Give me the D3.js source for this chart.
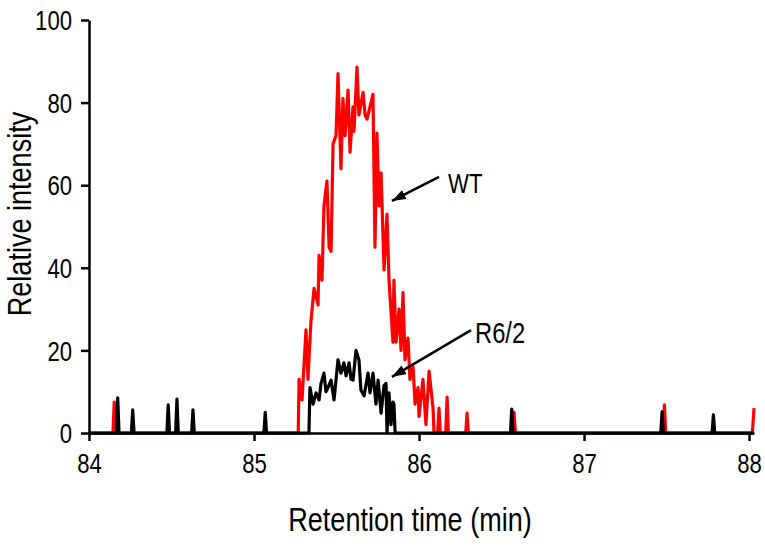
<!DOCTYPE html>
<html><head><meta charset="utf-8">
<script src="https://cdn.jsdelivr.net/npm/d3@7"></script>
<style>body{margin:0;background:#fff}</style>
</head><body><svg id="c" width="765" height="546"></svg>
<script>
// WT (red) trace
const wtTime = [84.00,84.145,84.153,84.161,85.268,85.273,85.291,85.315,85.327,85.345,85.364,85.388,85.394,85.412,85.424,85.442,85.455,85.467,85.479,85.497,85.509,85.527,85.539,85.552,85.570,85.582,85.600,85.606,85.624,85.636,85.661,85.673,85.685,85.721,85.733,85.745,85.758,85.770,85.788,85.806,85.818,85.842,85.848,85.861,85.879,85.891,85.903,85.915,85.933,85.945,85.964,85.976,85.994,86.000,86.024,86.042,86.061,86.085,86.091,86.113,86.121,86.129,86.162,86.170,86.178,86.283,86.291,86.299,86.568,86.576,86.584,87.479,87.487,87.495,88.02,88.03];
const wtIntensity = [0,0,7.5,0,0,13,8,25,13,27,35,31,43,37,55,61,45,44,70,72,87,64,81,72,83,68,79,73,88.6,77,82.5,77,76,82,45,72.6,55,63,39.5,53,37,22,37,22,30,20,34,17.7,23,13,16,7,11,4,13,2,15,6,0,0,6,0,0,8.7,0,0,4.8,0,0,5,0,0,6.8,0,0,6];
// R6/2 (black) trace
const r62Time = [84.00,84.166,84.174,84.182,84.257,84.265,84.273,84.472,84.480,84.488,84.525,84.533,84.541,84.622,84.630,84.638,85.060,85.068,85.076,85.333,85.339,85.358,85.376,85.394,85.406,85.424,85.436,85.448,85.467,85.485,85.509,85.527,85.545,85.558,85.576,85.588,85.600,85.618,85.636,85.648,85.667,85.691,85.703,85.721,85.739,85.752,85.770,85.788,85.800,85.806,85.818,85.830,85.842,85.848,85.855,86.554,86.562,86.570,87.465,87.473,87.481,87.776,87.784,87.792,88.03];
const r62Intensity = [0,0,8.5,0,0,5.6,0,0,6.8,0,0,8.2,0,0,5.6,0,0,5,0,0,11,7,9.7,8,12,14.5,10,11,12.8,8,17.7,14.5,17,13.8,17,13,12.8,20,17.7,10.4,9,14.5,9.7,14.5,7,12.8,4.8,11.5,12,0,9.7,2,7.5,7,0,0,5.8,0,0,5.2,0,0,4.4,0,0];
const xTicks = [84,85,86,87,88];
const yTicks = [0,20,40,60,80,100];
const labels = [
  {text:"WT", t:86.176, v:58.0, fromT:86.121, fromV:62.0, toT:85.836, toV:56.2},
  {text:"R6/2", t:86.339, v:21.8, fromT:86.315, fromV:24.9, toT:85.836, toV:13.6}
];

const FONT = '"Liberation Sans",Arial,sans-serif';
const SX = 0.82; // horizontally condensed lettering
const svg = d3.select("#c");
const x = d3.scaleLinear().domain([84, 88.03]).range([89, 754]);
const y = d3.scaleLinear().domain([0, 100]).range([433, 20]);

svg.append("defs").append("marker")
  .attr("id","ah").attr("markerUnits","userSpaceOnUse")
  .attr("viewBox","0 0 14 10").attr("refX",14).attr("refY",5)
  .attr("markerWidth",14).attr("markerHeight",10).attr("orient","auto")
  .append("path").attr("d","M0,0 L14,5 L0,10 Z").attr("fill","#000");

const line = d3.line().x(d => x(d[0])).y(d => y(d[1]));
const wt = wtTime.map((t,i) => [t, wtIntensity[i]]);
const r62 = r62Time.map((t,i) => [t, r62Intensity[i]]);

svg.append("path").datum(wt).attr("d", line)
  .attr("fill","none").attr("stroke","#ff0000").attr("stroke-width",3.2).attr("stroke-linejoin","round");
svg.append("path").datum(r62).attr("d", line)
  .attr("fill","none").attr("stroke","#000").attr("stroke-width",3.2).attr("stroke-linejoin","round");

// axes
const xAxis = svg.append("g").attr("transform","translate(0,433)")
  .call(d3.axisBottom(x).tickValues(xTicks).tickSize(8).tickSizeOuter(0).tickPadding(12).tickFormat(d3.format("d")));
const yAxis = svg.append("g").attr("transform","translate(89,0)")
  .call(d3.axisLeft(y).tickValues(yTicks).tickSize(8).tickSizeOuter(0).tickPadding(14).tickFormat(d3.format("d")));
[xAxis, yAxis].forEach(g => {
  g.selectAll("path,line").attr("stroke","#000").attr("stroke-width",2.5);
  g.selectAll("text").attr("fill","#000").style("font-family",FONT).style("font-size","27px");
});
yAxis.selectAll("text").attr("dy","0.36em").attr("x",-17/SX).attr("transform",`scale(${SX},1)`);
xAxis.selectAll("text").attr("dy","0.75em").attr("transform",`scale(${SX},1)`);

function label(px, py, txt, size, rot) {
  const g = svg.append("g").attr("transform",`translate(${px},${py})` + (rot ? ` rotate(${rot})` : "") + ` scale(${SX},1)`);
  return g.append("text").style("font-family",FONT).style("font-size",size+"px").text(txt);
}
label(410, 531, "Retention time (min)", 33).attr("text-anchor","middle");
label(31, 214, "Relative intensity", 33, -90).attr("text-anchor","middle");

labels.forEach(l => {
  svg.append("line").attr("x1",x(l.fromT)).attr("y1",y(l.fromV)).attr("x2",x(l.toT)).attr("y2",y(l.toV))
    .attr("stroke","#000").attr("stroke-width",2.5).attr("marker-end","url(#ah)");
  label(x(l.t), y(l.v), l.text, l.text === "WT" ? 27 : 29);
});
</script></body></html>
